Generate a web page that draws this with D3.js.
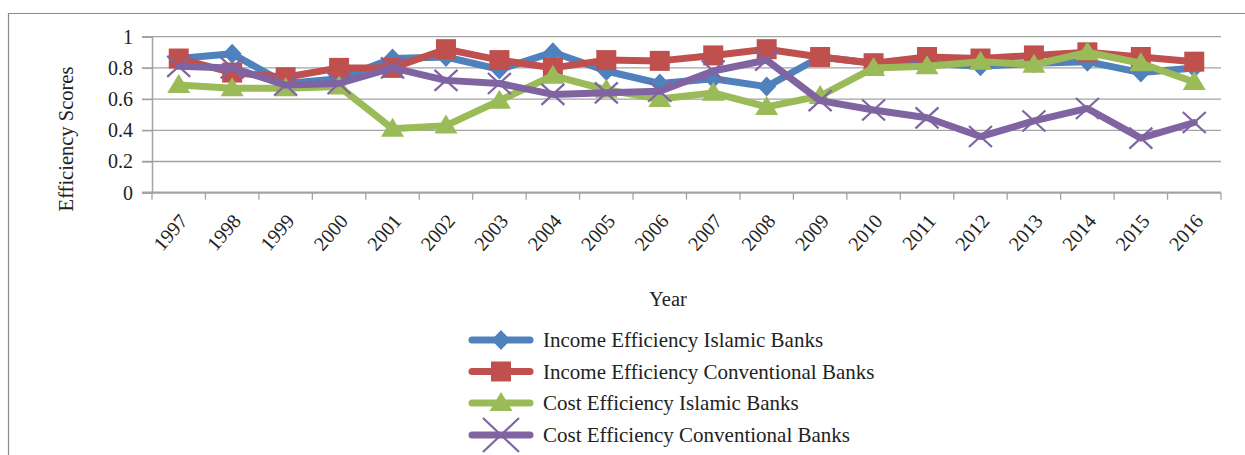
<!DOCTYPE html>
<html>
<head>
<meta charset="utf-8">
<script src="https://cdn.jsdelivr.net/npm/d3@7"></script>
<style>
  html, body { margin: 0; padding: 0; background: #fff; }
  svg { display: block; }
  text { font-family: "Liberation Serif", "Times New Roman", serif; fill: #222; }
</style>
</head>
<body>
<svg id="chart" width="1245" height="455"></svg>
<script>
const years = ["1997","1998","1999","2000","2001","2002","2003","2004","2005","2006",
               "2007","2008","2009","2010","2011","2012","2013","2014","2015","2016"];
const incomeIslamic = [0.86,0.89,0.70,0.73,0.86,0.87,0.79,0.90,0.78,0.70,0.73,0.68,0.87,0.83,0.83,0.81,0.83,0.84,0.77,0.80];
const incomeConventional = [0.86,0.77,0.74,0.80,0.80,0.92,0.85,0.80,0.85,0.845,0.88,0.92,0.87,0.83,0.87,0.86,0.88,0.90,0.87,0.84];
const costIslamic = [0.69,0.67,0.67,0.68,0.41,0.43,0.59,0.75,0.66,0.60,0.64,0.55,0.62,0.80,0.81,0.84,0.82,0.90,0.83,0.71];
const costConventional = [0.81,0.80,0.69,0.70,0.80,0.72,0.70,0.63,0.64,0.65,0.78,0.85,0.59,0.53,0.48,0.36,0.46,0.54,0.35,0.45];
const yTicks = [0, 0.2, 0.4, 0.6, 0.8, 1];
const seriesNames = ["Income Efficiency Islamic Banks","Income Efficiency Conventional Banks",
                     "Cost Efficiency Islamic Banks","Cost Efficiency Conventional Banks"];
const seriesColors = ["#4f81bd","#c0504d","#9bbb59","#8064a2"];
const seriesMarkers = ["diamond","square","triangle","x"];
const seriesValues = [incomeIslamic, incomeConventional, costIslamic, costConventional];

const svg = d3.select("#chart");
const pLeft = 152, pRight = 1221, pTop = 36.7, pBottom = 192.7;

// outer frame
svg.append("line").attr("x1", 8).attr("x2", 1245).attr("y1", 13.5).attr("y2", 13.5)
  .attr("stroke", "#8a8a8a").attr("stroke-width", 1.2);
svg.append("line").attr("x1", 8.5).attr("x2", 8.5).attr("y1", 13).attr("y2", 455)
  .attr("stroke", "#8a8a8a").attr("stroke-width", 1.2);

const x = d3.scaleBand().domain(years).range([pLeft, pRight]).padding(0);
const y = d3.scaleLinear().domain([0, 1]).range([pBottom, pTop]);
const cx = d => x(d) + x.bandwidth() / 2;

// gridlines
svg.append("g").selectAll("line").data(yTicks.filter(t => t > 0)).join("line")
  .attr("x1", pLeft - 10).attr("x2", pRight)
  .attr("y1", d => y(d)).attr("y2", d => y(d))
  .attr("stroke", "#a3a3a3").attr("stroke-width", 1.3);

// y axis
const yAxis = d3.axisLeft(y).tickValues(yTicks).tickSize(10).tickPadding(9)
  .tickFormat(d => d === 0 ? "0" : d === 1 ? "1" : d3.format(".1f")(d));
const gy = svg.append("g").attr("transform", `translate(${pLeft},0)`).call(yAxis);
gy.select(".domain").attr("stroke", "#a3a3a3").attr("stroke-width", 1.5);
gy.selectAll(".tick line").attr("stroke", "#a3a3a3").attr("stroke-width", 1.3);
gy.selectAll(".tick text").attr("font-size", 20).attr("fill", "#222")
  .style("font-family", "'Liberation Serif', serif");

// x axis
const xAxis = d3.axisBottom(x).tickSize(0).tickFormat(d => d);
const gx = svg.append("g").attr("transform", `translate(0,${pBottom})`).call(xAxis);
gx.select(".domain").remove();
gx.selectAll(".tick text")
  .attr("font-size", 20).attr("fill", "#222")
  .style("font-family", "'Liberation Serif', serif")
  .attr("text-anchor", "end")
  .attr("dy", null).attr("y", 0)
  .attr("transform", "translate(10,29) rotate(-49)");
svg.append("line").attr("x1", pLeft - 10).attr("x2", pRight).attr("y1", pBottom).attr("y2", pBottom)
  .attr("stroke", "#a3a3a3").attr("stroke-width", 2.2);
const bounds = years.map(d => x(d)).concat([pRight]);
svg.append("g").selectAll("line").data(bounds).join("line")
  .attr("x1", d => d).attr("x2", d => d).attr("y1", pBottom).attr("y2", pBottom + 7)
  .attr("stroke", "#a3a3a3").attr("stroke-width", 1.3);

// axis titles
svg.append("text").attr("transform", "translate(73,139) rotate(-90)")
  .attr("text-anchor", "middle").attr("font-size", 20.5).text("Efficiency Scores");
svg.append("text").attr("x", 668).attr("y", 306)
  .attr("text-anchor", "middle").attr("font-size", 20.5).text("Year");

function drawMarker(g, type, color, px, py, big) {
  if (type === "diamond") {
    const w = 9.5, h = 10;
    g.append("path").attr("d", `M${px},${py-h}L${px+w},${py}L${px},${py+h}L${px-w},${py}Z`).attr("fill", color);
  } else if (type === "square") {
    g.append("rect").attr("x", px - 10).attr("y", py - 10).attr("width", 20).attr("height", 20).attr("fill", color);
  } else if (type === "triangle") {
    g.append("path").attr("d", `M${px},${py-11}L${px+11.5},${py+8}L${px-11.5},${py+8}Z`).attr("fill", color);
  } else {
    const s = big ? 18 : 11.5, t = big ? 17 : 10.5;
    g.append("path").attr("d", `M${px-s},${py-t}L${px+s},${py+t}M${px-s},${py+t}L${px+s},${py-t}`)
      .attr("stroke", color).attr("stroke-width", 2.2).attr("fill", "none");
  }
}

// series
const line = d3.line().x(d => cx(d.year)).y(d => y(d.v));
seriesValues.forEach((vals, i) => {
  const data = years.map((yr, j) => ({ year: yr, v: vals[j] }));
  const g = svg.append("g");
  g.append("path").datum(data).attr("d", line).attr("fill", "none")
    .attr("stroke", seriesColors[i]).attr("stroke-width", 7)
    .attr("stroke-linejoin", "round").attr("stroke-linecap", "round");
  data.forEach(d => drawMarker(g, seriesMarkers[i], seriesColors[i], cx(d.year), y(d.v), false));
});

// legend
const legendY = [340, 371.5, 403, 435];
seriesNames.forEach((name, i) => {
  const g = svg.append("g");
  const ly = legendY[i];
  g.append("line").attr("x1", 472).attr("x2", 530).attr("y1", ly).attr("y2", ly)
    .attr("stroke", seriesColors[i]).attr("stroke-width", 7).attr("stroke-linecap", "round");
  drawMarker(g, seriesMarkers[i], seriesColors[i], 501, ly, true);
  g.append("text").attr("x", 543).attr("y", ly + 7).attr("font-size", 21).text(name);
});
</script>
</body>
</html>
